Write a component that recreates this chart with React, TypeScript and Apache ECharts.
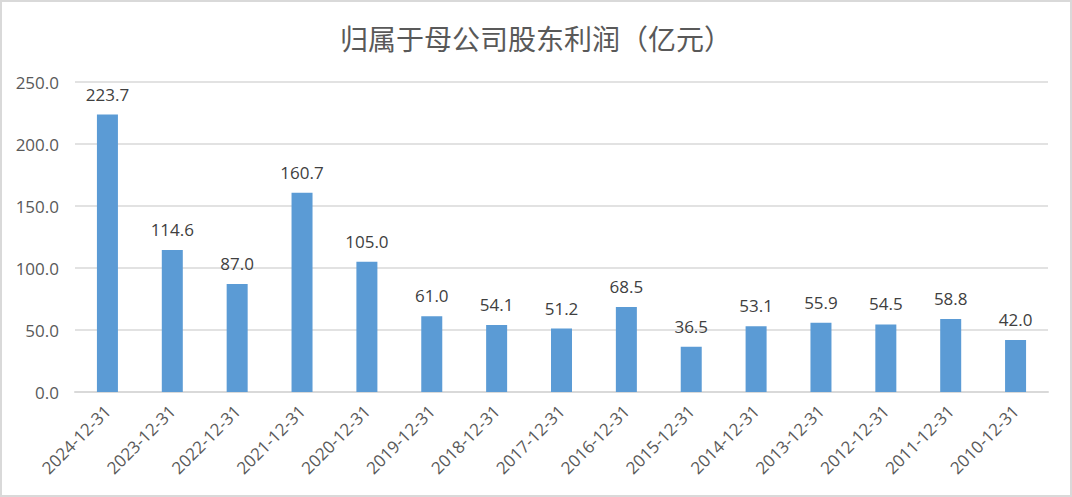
import React, { useEffect, useRef } from "react";
import * as echarts from "echarts";

const categories = [
  "2024-12-31", "2023-12-31", "2022-12-31", "2021-12-31", "2020-12-31",
  "2019-12-31", "2018-12-31", "2017-12-31", "2016-12-31", "2015-12-31",
  "2014-12-31", "2013-12-31", "2012-12-31", "2011-12-31", "2010-12-31",
];
const profits = [223.7, 114.6, 87.0, 160.7, 105.0, 61.0, 54.1, 51.2, 68.5, 36.5, 53.1, 55.9, 54.5, 58.8, 42.0];
const titleText = "归属于母公司股东利润（亿元）";

export default function App() {
  const ref = useRef<HTMLDivElement>(null);
  useEffect(() => {
    if (!ref.current) return;
    const chart = echarts.init(ref.current, null, { renderer: "svg" });
    chart.setOption({
      animation: false,
      backgroundColor: "#ffffff",
      title: {
        text: titleText,
        left: "center",
        top: 17,
        textStyle: {
          fontFamily: "Noto Sans CJK SC",
          fontSize: 28,
          fontWeight: "normal",
          color: "#595959",
        },
      },
      grid: { left: 73, right: 22, top: 80, bottom: 103 },
      xAxis: {
        type: "category",
        data: categories,
        axisLine: { lineStyle: { color: "#d9d9d9", width: 2 } },
        axisTick: { show: false },
        axisLabel: {
          rotate: 45,
          interval: 0,
          margin: 16,
          fontSize: 17,
          fontFamily: "Open Sans",
          color: "#595959",
        },
      },
      yAxis: {
        type: "value",
        min: 0,
        max: 250,
        interval: 50,
        axisLine: { show: false },
        axisTick: { show: false },
        splitLine: { lineStyle: { color: "#d9d9d9", width: 1.5 } },
        axisLabel: {
          formatter: (v: number) => v.toFixed(1),
          fontSize: 17,
          fontFamily: "Open Sans",
          color: "#595959",
          margin: 16,
        },
      },
      series: [
        {
          type: "bar",
          data: profits,
          barWidth: 21,
          itemStyle: { color: "#5b9bd5" },
          label: {
            show: true,
            position: "top",
            distance: 12,
            formatter: (p: any) => Number(p.value).toFixed(1),
            fontSize: 17,
            fontFamily: "Open Sans",
            color: "#404040",
          },
        },
      ],
    });
    return () => chart.dispose();
  }, []);
  return (
    <div
      style={{
        position: "fixed",
        left: 0,
        top: 0,
        width: 1072,
        height: 497,
        boxSizing: "border-box",
        border: "2px solid #d9d9d9",
        background: "#fff",
      }}
    >
      <div ref={ref} style={{ width: "100%", height: "100%" }} />
    </div>
  );
}
